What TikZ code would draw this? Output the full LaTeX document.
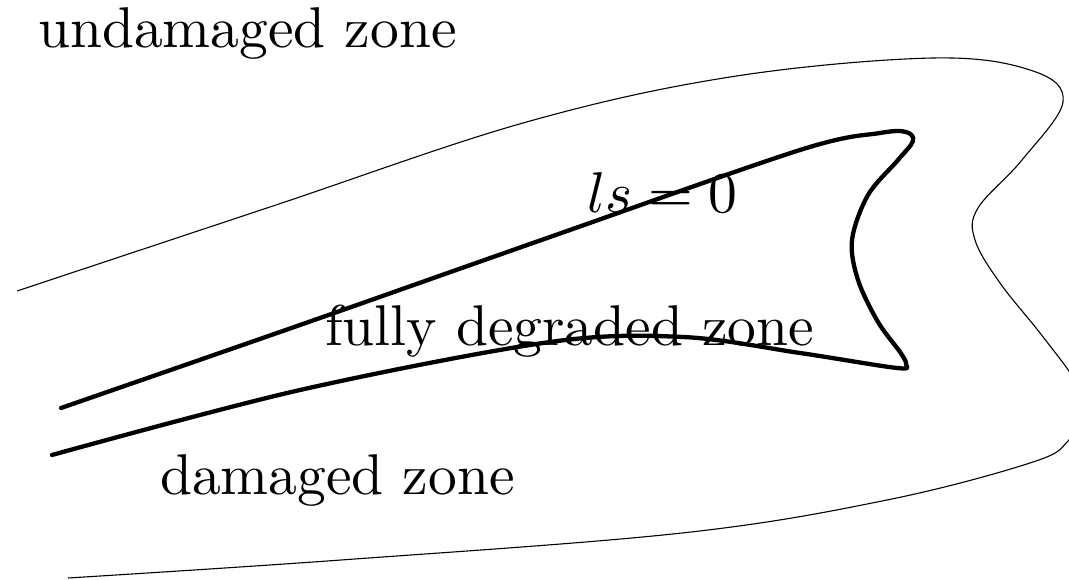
\documentclass[tikz,border=0pt]{standalone}
\begin{document}
\begin{tikzpicture}[x=1pt,y=-1pt,
  lbl/.style={scale=5.75,inner sep=0pt,anchor=base west},
  thinline/.style={line width=1.1pt,line join=round},
  thickline/.style={line width=4.3pt,line join=round,line cap=round}]
\useasboundingbox (0,0) rectangle (1069,580);
\begin{scope}
\clip (0,0) rectangle (1069,580);
\draw[thinline] plot[smooth,tension=0.6] coordinates {
 (17,291) (270,207) (523,123) (730,77) (933,58) (1033,71) (1063,102)
 (1022,160) (978,208) (975,240) (1000,283) (1040,333) (1075,380) (1088,410)
 (1069,440) (1033,462) (887,500) (682,533) (341,560) (68,578)};
\end{scope}
\draw[thickline] plot[smooth,tension=0.55] coordinates {
 (61,408) (300,325) (550,237) (800,150) (880,133) (906,132) (913,141)
 (898,160) (868,195) (852,240) (858,280) (878,322) (900,352) (906,364)
 (897,368) (800,353) (683,337) (550,342) (300,390) (52,455)};
\node[lbl] (u) at (37,48) {undamaged zone};
\node[lbl] (ls) at (586,213) {$ls=0$};
\node[lbl] (f) at (324,345) {fully degraded zone};
\node[lbl] (d) at (159,494) {damaged zone};
\end{tikzpicture}
\end{document}
